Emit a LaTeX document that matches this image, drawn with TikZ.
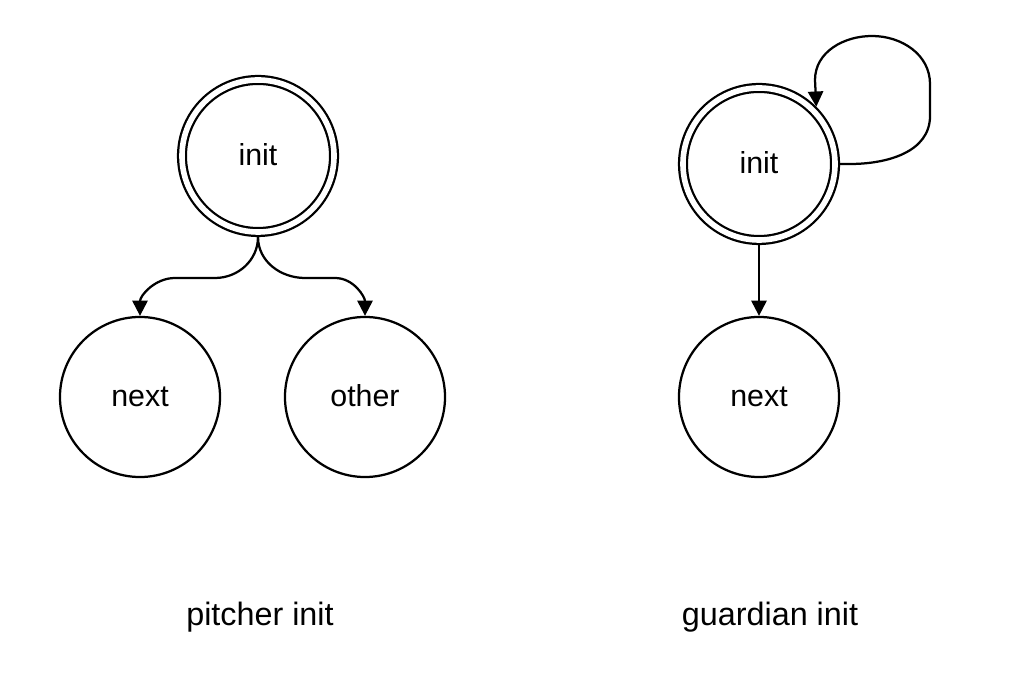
\documentclass[tikz,border=0pt]{standalone}
\usepackage{fontspec}
\setmainfont{Liberation Sans}
\usetikzlibrary{arrows.meta}

\begin{document}
\begin{tikzpicture}[x=0.025cm, y=0.025cm, line width=1.6pt,
    state/.style={draw, circle, minimum size=4cm, inner sep=0pt, text height=14pt, text depth=0pt},
    startstate/.style={state, double, double distance=0.14cm, minimum size=3.8cm, outer sep=0.125cm},
    arr/.style={-{Triangle[length=0.38cm, width=0.38cm]}},
    caption/.style={font=\fontsize{23}{27}\selectfont},
    font=\fontsize{21.6}{26}\selectfont]
    \useasboundingbox (0, 0) rectangle (1012, 676);
    \node[startstate] (pinit) at (258, 520) {init};
    \node[state] (pnext) at (140, 279) {next};
    \node[state] (pother) at (365, 279) {other};
    \node[caption] (plabel) at (260, 59) {pitcher init};
    \draw[arr] (pinit.south) to[out=-90, in=0] (215, 398) -- (175, 398) to[out=180, in=90] (pnext.north);
    \draw[arr] (pinit.south) to[out=-90, in=180] (305, 398) -- (335, 398) to[out=0, in=90] (pother.north);

    \node[startstate] (ginit) at (759, 512) {init};
    \node[state] (gnext) at (759, 279) {next};
    \node[caption] (glabel) at (770, 59) {guardian init};
    \draw[arr] (ginit) -- (gnext);
    \draw[arr] (ginit.east) -- (850, 512) to[out=0, in=-90] (930, 560) -- (930, 592) to[out=90, in=0] (872, 640) to[out=180, in=90] (815, 596) -- (ginit.45);
\end{tikzpicture}
\end{document}
